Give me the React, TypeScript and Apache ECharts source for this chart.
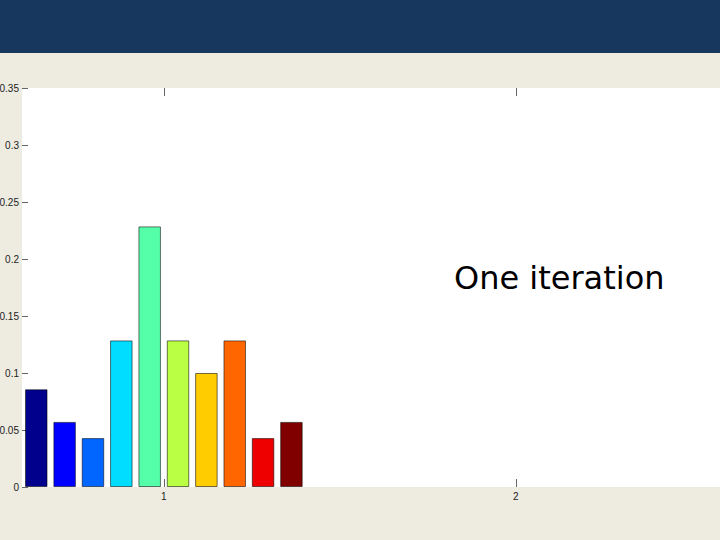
import React, { useEffect, useRef } from "react";
import * as echarts from "echarts";

const groupPosition = 1;
const xTickValues = [1, 2];
const binValues = [0.0857, 0.0571, 0.0429, 0.1286, 0.2286, 0.1286, 0.1, 0.1286, 0.0429, 0.0571];
const binColors = [
  "#00008C", "#0000FF", "#0066FF", "#00DDFF", "#55FFAA",
  "#BBFF44", "#FFCC00", "#FF6600", "#EE0000", "#800000",
];
const yMin = 0;
const yMax = 0.35;
const yStep = 0.05;
const xMin = 0.597;
const xMax = 2.58;
const annotation = "One iteration";

export default function App() {
  const ref = useRef<HTMLDivElement>(null);
  useEffect(() => {
    if (!ref.current) return;
    const chart = echarts.init(ref.current, undefined, { renderer: "svg" });
    const labelFont = { fontFamily: "Liberation Sans", fontSize: 10, color: "#222" };
    const series = binValues.map((v, i) => ({
      type: "bar",
      name: "bin" + (i + 1),
      xAxisIndex: 0,
      yAxisIndex: 0,
      barWidth: 22.5,
      barGap: "26%",
      data: [[groupPosition, v]],
      itemStyle: {
        color: binColors[i],
        borderColor: "rgba(0,0,0,0.55)",
        borderWidth: 1,
      },
    }));
    chart.setOption({
      animation: false,
      backgroundColor: "#EEECE1",
      graphic: [
        { type: "rect", left: 0, top: 0, shape: { width: 720, height: 53 }, style: { fill: "#17375E" }, z: 10 },
        {
          type: "text",
          left: 454,
          top: 262,
          style: { text: annotation, font: "32px 'DejaVu Sans'", fill: "#000" },
          z: 10,
        },
      ],
      grid: {
        left: 22,
        right: 0,
        top: 88,
        bottom: 53,
        outerBoundsMode: "none",
        containLabel: false,
        show: true,
        backgroundColor: "#FFFFFF",
        borderWidth: 0,
      },
      xAxis: [
        {
          type: "value",
          position: "bottom",
          min: xMin,
          max: xMax,
          axisLine: { show: false },
          splitLine: { show: false },
          axisTick: { show: true, inside: true, length: 8, customValues: xTickValues, lineStyle: { color: "#666" } },
          axisLabel: { ...labelFont, margin: 4, customValues: xTickValues },
        },
        {
          type: "value",
          position: "top",
          min: xMin,
          max: xMax,
          axisLine: { show: false },
          splitLine: { show: false },
          axisTick: { show: true, inside: true, length: 8, customValues: xTickValues, lineStyle: { color: "#666" } },
          axisLabel: { show: false },
        },
      ],
      yAxis: {
        type: "value",
        min: yMin,
        max: yMax,
        interval: yStep,
        axisLine: { show: false },
        splitLine: { show: false },
        axisTick: { show: true, inside: true, length: 6, lineStyle: { color: "#666" } },
        axisLabel: { ...labelFont, margin: 3 },
      },
      series,
    });
    return () => chart.dispose();
  }, []);
  return (
    <div
      ref={ref}
      style={{ position: "fixed", left: 0, top: 0, width: 720, height: 540 }}
    />
  );
}
